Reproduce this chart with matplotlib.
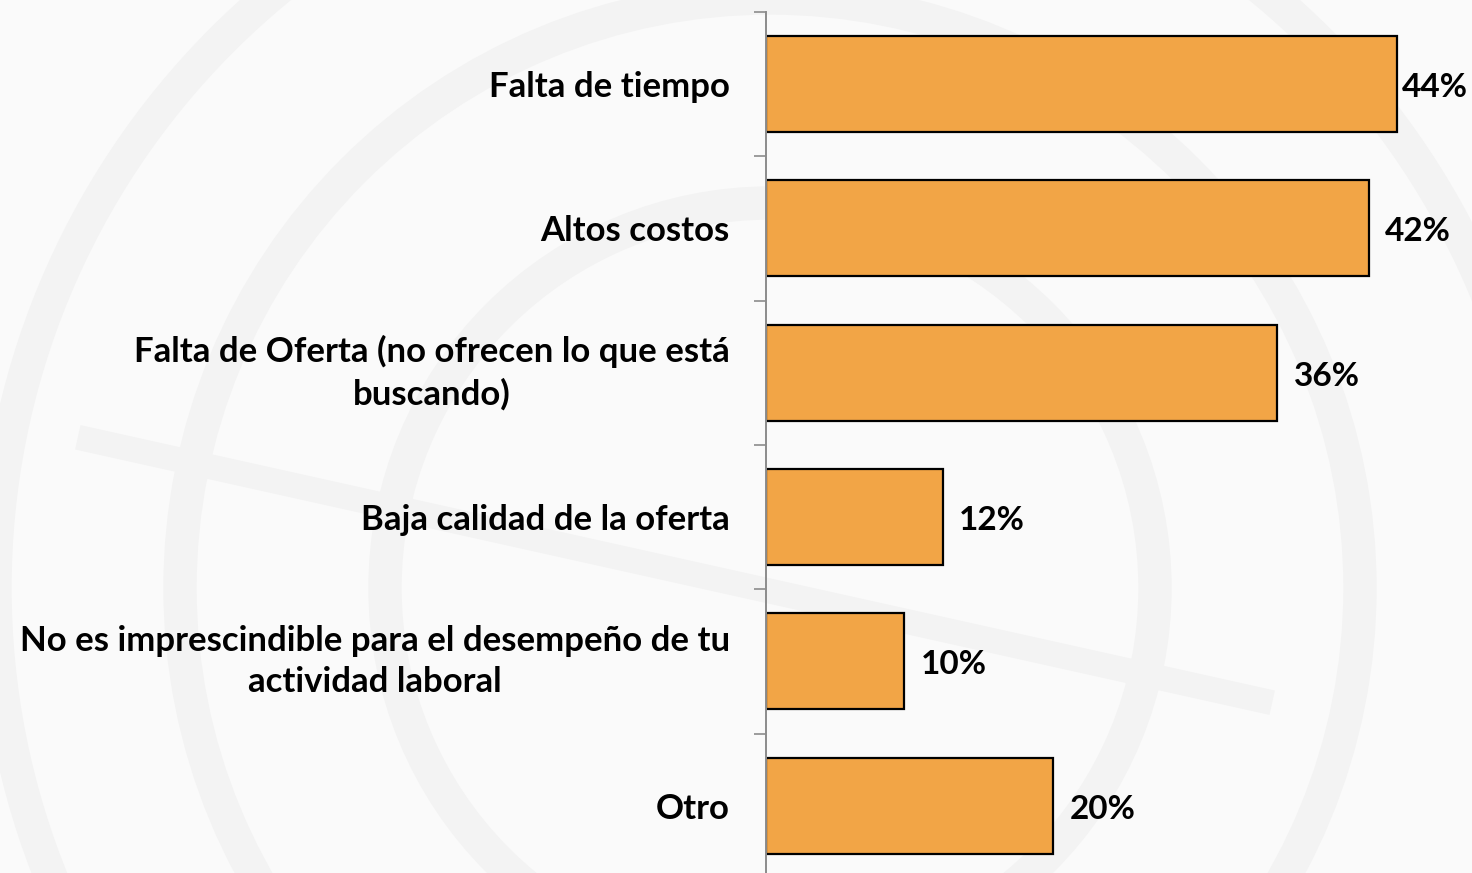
import matplotlib.pyplot as plt
from matplotlib.patches import Circle
from matplotlib.lines import Line2D
from matplotlib.ticker import FixedLocator, NullFormatter

categories = [
    "Falta de tiempo",
    "Altos costos",
    "Falta de Oferta (no ofrecen lo que está\nbuscando)",
    "Baja calidad de la oferta",
    "No es imprescindible para el desempeño de tu\nactividad laboral",
    "Otro",
]
values = [44, 42, 35.6, 12.3, 9.6, 20]
value_labels = ["44%", "42%", "36%", "12%", "10%", "20%"]

BAR_COLOR = "#F2A546"
BG = "#FAFAFA"
MARK = "#F3F3F3"

plt.rcParams["font.family"] = ["Lato", "DejaVu Sans"]
plt.rcParams["font.weight"] = "bold"


def add_watermark(fig):
    # faint globe-like rings behind the chart
    for r in (3.85, 5.9, 7.75):
        fig.add_artist(Circle((7.7, 2.85), r, transform=fig.dpi_scale_trans,
                              fill=False, edgecolor=MARK, linewidth=24, zorder=0))
    fig.add_artist(Line2D([0.9, 12.6], [4.33, 1.73], transform=fig.dpi_scale_trans,
                          color=MARK, linewidth=18, zorder=0))


def main():
    fig = plt.figure(figsize=(14.72, 8.73), dpi=100, facecolor=BG)
    add_watermark(fig)
    ax = fig.add_axes([0.5204, -0.0057, 0.4796, 0.992])
    ax.set_facecolor("none")

    pos = list(range(len(categories)))
    ax.barh(pos, values, height=0.665, color=BAR_COLOR,
            edgecolor="black", linewidth=1.6)

    ax.set_xlim(0, 49.2)
    ax.set_ylim(len(categories) - 0.5, -0.5)

    # value labels outside the bar end, pulled back inside the figure if needed
    renderer = fig.canvas.get_renderer()
    fig_w = fig.bbox.width
    for y, v, lab in zip(pos, values, value_labels):
        t = ax.annotate(lab, (v, y), xytext=(12, -2.5), textcoords="offset points",
                        va="center", ha="left", fontsize=24, fontweight="bold")
        ext = t.get_window_extent(renderer)
        if ext.x1 > fig_w - 4:
            t.xyann = (12 - (ext.x1 - fig_w + 4) * 72 / fig.dpi, -2.5)

    # category boundaries as tick marks, labels at bar centres
    ax.yaxis.set_major_locator(FixedLocator([i - 0.5 for i in range(len(categories) + 1)]))
    ax.yaxis.set_major_formatter(NullFormatter())
    ax.yaxis.set_minor_locator(FixedLocator(pos))
    labels = ax.set_yticklabels(categories, minor=True, fontsize=25, fontweight="bold",
                                ha="right", multialignment="center", linespacing=1.38)
    for lab in labels:
        if "\n" in lab.get_text():
            lab.set_va("center")
    ax.tick_params(axis="y", which="major", length=9, width=1.2, color="#8c8c8c")
    ax.tick_params(axis="y", which="minor", length=0, pad=26)

    ax.set_xticks([])
    for side in ("top", "right", "bottom"):
        ax.spines[side].set_visible(False)
    ax.spines["left"].set_color("#8c8c8c")
    ax.spines["left"].set_linewidth(1.4)

    fig.savefig("out.png", dpi=100, facecolor=BG)
    plt.close()


if __name__ == "__main__":
    main()
